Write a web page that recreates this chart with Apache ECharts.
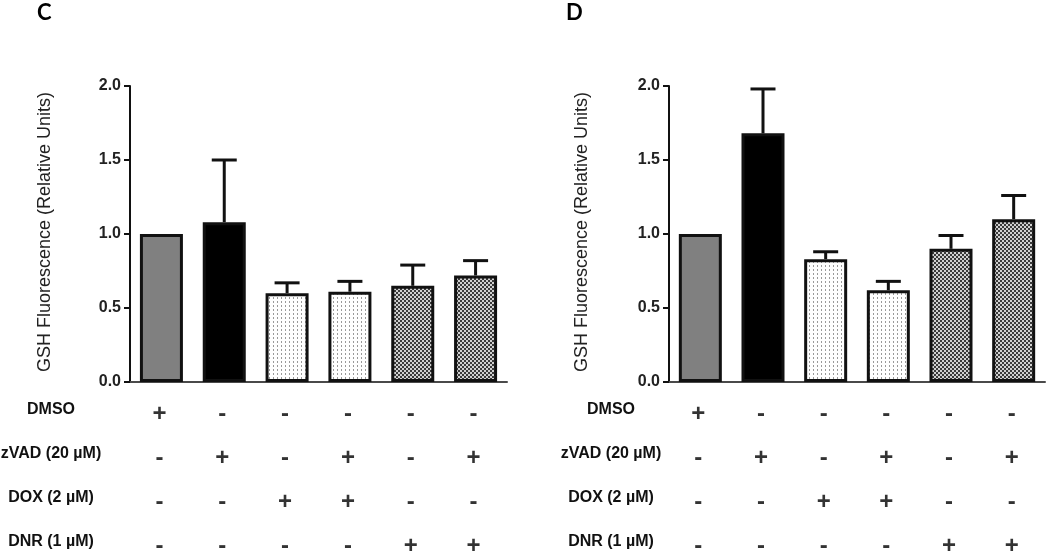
<!DOCTYPE html>
<html><head><meta charset="utf-8">
<script src="https://cdn.jsdelivr.net/npm/echarts@6/dist/echarts.min.js"></script>
<style>html,body{margin:0;padding:0;background:#fff}#c{width:1050px;height:551px}</style>
</head><body><div id="c"></div>
<script>
// ---- data ----
const categories = ['DMSO', 'zVAD', 'DOX', 'zVAD+DOX', 'DNR', 'zVAD+DNR'];
const meanC = [1.00, 1.08, 0.60, 0.61, 0.65, 0.72];
const upperC = [null, 1.50, 0.67, 0.68, 0.79, 0.82];
const meanD = [1.00, 1.68, 0.83, 0.62, 0.90, 1.10];
const upperD = [null, 1.98, 0.88, 0.68, 0.99, 1.26];
const yTicks = [0.0, 0.5, 1.0, 1.5, 2.0];
const rowLabels = ['DMSO', 'zVAD (20 µM)', 'DOX (2 µM)', 'DNR (1 µM)'];
const treatDMSO = ['+', '-', '-', '-', '-', '-'];
const treatZVAD = ['-', '+', '-', '+', '-', '+'];
const treatDOX  = ['-', '-', '+', '+', '-', '-'];
const treatDNR  = ['-', '-', '-', '-', '+', '+'];
const yName = 'GSH Fluorescence (Relative Units)';

// ---- patterns ----
function dotPattern() {
  const c = document.createElement('canvas'); c.width = 4; c.height = 4;
  const g = c.getContext('2d'); g.fillStyle = '#fff'; g.fillRect(0, 0, 4, 4);
  g.fillStyle = '#9a9a9a'; g.fillRect(1, 1, 1, 2);
  return { image: c, repeat: 'repeat' };
}
function checkPattern() {
  const c = document.createElement('canvas'); c.width = 4; c.height = 4;
  const g = c.getContext('2d'); g.fillStyle = '#d0d0d0'; g.fillRect(0, 0, 4, 4);
  g.fillStyle = '#3a3a3a'; g.fillRect(0, 0, 2, 2); g.fillRect(2, 2, 2, 2);
  return { image: c, repeat: 'repeat' };
}
const fills = ['#808080', '#000000', dotPattern(), dotPattern(), checkPattern(), checkPattern()];

const chart = echarts.init(document.getElementById('c'), null, { renderer: 'canvas' });

const panels = [
  { left: 130, width: 377, mean: meanC, upper: upperC, nameX: 45, rowMargin: 79 },
  { left: 669, width: 376, mean: meanD, upper: upperD, nameX: 582, rowMargin: 58 }
];

const grid = [], xAxis = [], yAxis = [], series = [];
panels.forEach((p, i) => {
  grid.push({ left: p.left, top: 86, width: p.width, height: 296, containLabel: false, outerBoundsMode: 'none' });
  grid.push({ left: p.left, top: 388, width: p.width, height: 176, containLabel: false, outerBoundsMode: 'none' });
  const gBar = 2 * i, gTab = 2 * i + 1;
  xAxis.push({
    type: 'category', data: categories, gridIndex: gBar,
    axisLine: { lineStyle: { color: '#4a4a4a', width: 2 } },
    axisTick: { show: false }, axisLabel: { show: false }
  });
  xAxis.push({
    type: 'category', data: categories, gridIndex: gTab,
    axisLine: { show: false }, axisTick: { show: false }, axisLabel: { show: false }
  });
  yAxis.push({
    type: 'value', gridIndex: gBar, min: 0, max: 2, interval: 0.5,
    splitLine: { show: false },
    axisLine: { show: true, lineStyle: { color: '#111', width: 2 } },
    axisTick: { show: true, length: 6, lineStyle: { color: '#111', width: 2 } },
    axisLabel: {
      margin: 9, fontSize: 16, fontWeight: 'bold', color: '#222',
      fontFamily: 'Liberation Sans, Arial, sans-serif',
      formatter: v => yTicks.includes(v) ? v.toFixed(1) : ''
    }
  });
  yAxis.push({
    type: 'category', gridIndex: gTab, data: rowLabels, inverse: true,
    axisLine: { show: false }, axisTick: { show: false }, splitLine: { show: false },
    axisLabel: {
      margin: p.rowMargin, align: 'center', fontSize: 16, fontWeight: 'bold', color: '#111',
      fontFamily: 'Liberation Sans, Arial, sans-serif'
    }
  });
  series.push({
    type: 'bar', xAxisIndex: gBar, yAxisIndex: gBar, barWidth: 43,
    data: p.mean.map((v, k) => ({ value: v, itemStyle: { color: fills[k] } })),
    itemStyle: { borderColor: '#111', borderWidth: 3 },
    silent: true, animation: false, z: 2
  });
  series.push({
    type: 'custom', xAxisIndex: gBar, yAxisIndex: gBar, animation: false, silent: true, z: 3,
    data: p.upper.map((u, k) => [k, p.mean[k], u]),
    renderItem: (params, api) => {
      const u = api.value(2);
      if (u == null || isNaN(u)) return null;
      const top = api.coord([api.value(0), u]);
      const base = api.coord([api.value(0), api.value(1)]);
      const hw = 12.5;
      return {
        type: 'group', children: [
          { type: 'line', shape: { x1: top[0], y1: base[1], x2: top[0], y2: top[1] }, style: { stroke: '#111', lineWidth: 3 } },
          { type: 'line', shape: { x1: top[0] - hw, y1: top[1], x2: top[0] + hw, y2: top[1] }, style: { stroke: '#111', lineWidth: 3 } }
        ]
      };
    }
  });
  const rows = [treatDMSO, treatZVAD, treatDOX, treatDNR];
  const tdata = [];
  rows.forEach((r, ri) => r.forEach((s, ci) => tdata.push({ value: [ci, ri], sign: s })));
  series.push({
    type: 'scatter', xAxisIndex: gTab, yAxisIndex: gTab, symbolSize: 1,
    itemStyle: { color: 'rgba(0,0,0,0)' }, animation: false, silent: true,
    data: tdata.map(d => ({ value: [categories[d.value[0]], rowLabels[d.value[1]]], label: { formatter: d.sign } })),
    label: {
      show: true, position: 'inside', offset: [-2, 4], fontSize: 24, fontWeight: 'bold', color: '#000',
      fontFamily: 'Liberation Sans, Arial, sans-serif'
    }
  });
});

const graphic = [
  { type: 'text', left: 37, top: 2, style: { text: 'C', fontSize: 22, fontWeight: 'bold', fill: '#000', fontFamily: 'Lato, sans-serif' } },
  { type: 'text', left: 566, top: 2, style: { text: 'D', fontSize: 22, fontWeight: 'bold', fill: '#000', fontFamily: 'Lato, sans-serif' } }
];
panels.forEach(p => {
  graphic.push({
    type: 'text', x: p.nameX, y: 232, rotation: Math.PI / 2,
    style: { text: yName, fontSize: 18, fill: '#222', align: 'center', verticalAlign: 'middle',
      fontFamily: 'Liberation Sans, Arial, sans-serif' }
  });
});

chart.setOption({ animation: false, grid, xAxis, yAxis, series, graphic });
</script></body></html>
